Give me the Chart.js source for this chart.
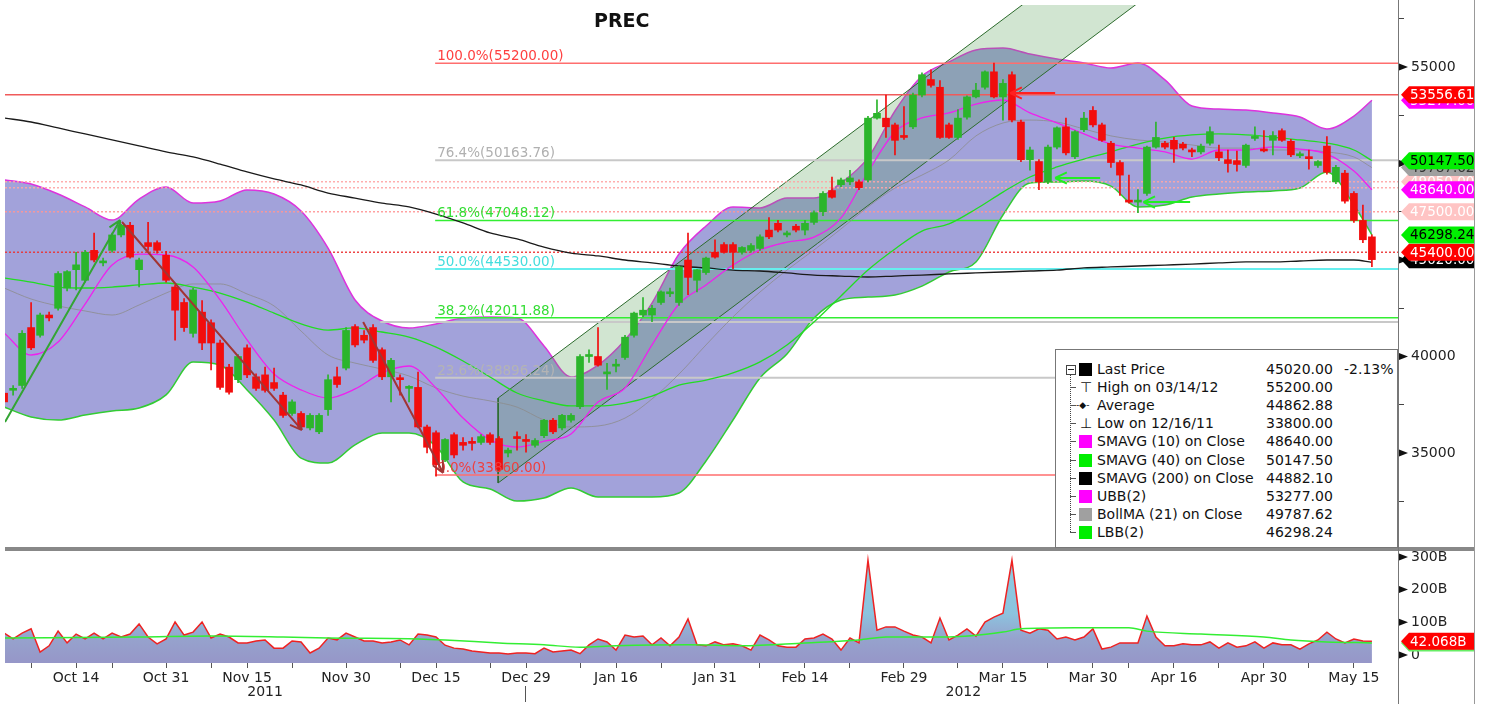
<!DOCTYPE html>
<html>
<head>
<meta charset="utf-8">
<title>PREC</title>
<script src="https://cdn.jsdelivr.net/npm/chart.js@4.4.1/dist/chart.umd.min.js"></script>
<style>
  html, body { margin: 0; padding: 0; background: #fff; }
  body { width: 1485px; height: 704px; position: relative; overflow: hidden; font-family: "DejaVu Sans", sans-serif; }
  canvas { position: absolute; left: 0; }
  #priceChart { top: 0; }
  #volumeChart { top: 548px; }
  .rule { position: absolute; }
  #title { position: absolute; left: 594px; top: 9px; font: bold 19px "DejaVu Sans", sans-serif; color: #111; }
  #legend { position: absolute; left: 1055px; top: 349px; width: 341px; height: 197px; background: #fff; border: 1px solid #777; font-size: 14px; color: #111; }
  #legend div { position: absolute; white-space: nowrap; line-height: 18px; }
</style>
</head>
<body>
<canvas id="priceChart" width="1485" height="548"></canvas>
<canvas id="volumeChart" width="1485" height="156"></canvas>
<div class="rule" style="left:5px;top:547px;width:1470px;height:4px;background:#888"></div>
<div class="rule" style="left:1398px;top:0;width:1px;height:704px;background:#777"></div>
<div class="rule" style="left:1474px;top:0;width:1px;height:704px;background:#999"></div>
<div id="title">PREC</div>
<div id="legend"></div>
<script>
// daily candles, one per trading day (index 0 = first visible day)
const opens = [
  38100, 38250, 38500, 41500, 41100, 42150, 42500, 43550, 44500, 43950,
  45500, 44850, 45500, 46300, 46800, 44500, 45900, 45900, 45250, 43600,
  42800, 41200, 42300, 41750, 40700, 39450, 38800, 40450, 38950, 39050,
  38650, 38000, 37050, 37050, 36300, 36100, 37250, 38950, 39400, 41550,
  41100, 41500, 40350, 38950, 38900, 38350, 38400, 36350, 36050, 34650,
  35950, 35550, 35550, 35550, 35950, 35750, 35000, 35850, 35700, 35400,
  35900, 36700, 36300, 36700, 37400, 40000, 40000, 39100, 39500, 39950,
  41100, 42150, 42150, 42800, 43250, 42800, 45000, 43950, 44350, 45400,
  45800, 45800, 45400, 45500, 45600, 46550, 46900, 46300, 46750, 46550,
  46950, 47500, 48600, 48900, 49050, 49050, 49150, 52350, 52350, 52000,
  51450, 51900, 53550, 54350, 53950, 52000, 51350, 52400, 53450, 53950,
  54750, 53450, 54600, 52150, 50200, 50100, 49050, 50850, 51900, 50350,
  51750, 52750, 52000, 51050, 50050, 48100, 48000, 48450, 50850, 51050,
  51200, 51000, 50700, 50600, 51050, 50600, 50200, 50150, 49900, 51300,
  50700, 51200, 51700, 51150, 50400, 50300, 49900, 50900, 49050, 49500,
  48450, 47050, 46200
];
const highs = [
  38350, 38500, 41350, 42800, 42250, 42300, 44400, 44450, 45400, 45500,
  46400, 45100, 46400, 46850, 46950, 45100, 46950, 46000, 45450, 43700,
  43000, 43550, 42900, 41900, 40850, 39600, 40100, 40600, 39100, 39450,
  39400, 38150, 37750, 37150, 37050, 37050, 39050, 39450, 41500, 41650,
  41350, 41650, 40450, 39900, 39050, 38500, 39200, 36450, 36150, 35750,
  36050, 35800, 35800, 35950, 36050, 35850, 35250, 36100, 35950, 35750,
  36750, 36800, 37000, 37050, 40100, 40350, 41500, 39650, 39850, 41100,
  42300, 43050, 42650, 43400, 43550, 44700, 46400, 44500, 45150, 46050,
  45900, 45900, 45700, 45850, 46300, 47200, 47050, 46500, 46850, 47050,
  47550, 48550, 49300, 49250, 49650, 49150, 52450, 53300, 53550, 52100,
  52950, 53650, 54700, 54850, 54300, 52100, 52800, 53500, 54150, 54800,
  55200, 54350, 54750, 52250, 50850, 50200, 50950, 51900, 52350, 51700,
  52650, 52950, 52100, 51150, 50150, 49400, 48650, 50900, 52150, 51150,
  51350, 51100, 50800, 51000, 51900, 50950, 50700, 50650, 51000, 51900,
  51700, 51650, 51800, 51250, 50600, 50700, 50150, 51400, 49900, 49650,
  48550, 47850, 46300
];
const lows = [
  37250, 38000, 38350, 40350, 41000, 41850, 42400, 43400, 43450, 43850,
  44900, 44700, 45400, 46200, 45100, 43600, 45500, 45350, 43850, 40850,
  41300, 41000, 40350, 39300, 38300, 38050, 38650, 38900, 38250, 38150,
  38250, 36850, 36950, 36250, 36200, 36000, 36950, 38400, 39300, 40500,
  40700, 39700, 38800, 37650, 38000, 37650, 36300, 35000, 33800, 34550,
  34750, 35150, 35150, 35450, 35450, 34050, 34800, 35150, 35050, 35300,
  35800, 36000, 36200, 36600, 37300, 39700, 39500, 38300, 39200, 39850,
  41000, 42050, 41800, 42700, 43100, 42650, 43200, 43350, 44250, 45100,
  45350, 44550, 45300, 45400, 45500, 46100, 46450, 46200, 46450, 46300,
  46850, 47300, 48200, 48800, 48900, 48650, 49050, 52300, 51350, 50450,
  51250, 51800, 53450, 53950, 51300, 51300, 51250, 52300, 53400, 53850,
  53400, 52250, 52150, 50100, 49650, 48650, 48950, 50750, 50450, 50250,
  51650, 51900, 51150, 49800, 48350, 47950, 47450, 48350, 50800, 50750,
  50050, 50700, 50350, 50500, 50950, 50150, 49550, 49600, 49800, 51200,
  50600, 50450, 51150, 50350, 50300, 49700, 49800, 49450, 48950, 47950,
  46950, 45900, 44650
];
const closes = [
  37650, 38300, 41200, 40450, 42150, 42000, 44300, 44400, 44750, 45400,
  45000, 44950, 46300, 46800, 45150, 45000, 45700, 45500, 43950, 42400,
  41500, 43450, 40700, 40700, 38400, 38150, 40000, 39050, 38350, 38250,
  38350, 36950, 37650, 36350, 36950, 36950, 38800, 38550, 41350, 40600,
  40850, 39800, 38950, 39800, 38800, 38450, 36350, 35300, 34400, 35700,
  34900, 35400, 35500, 35850, 35550, 34150, 35150, 35750, 35600, 35650,
  36700, 36100, 36950, 36950, 40000, 40100, 39550, 39200, 39600, 41000,
  42250, 42400, 42500, 43350, 43350, 44650, 44100, 44500, 45100, 45150,
  45400, 45400, 45650, 45750, 46200, 46200, 46550, 46400, 46550, 46900,
  47450, 48450, 48250, 49150, 49250, 48750, 52350, 52600, 51900, 51200,
  51350, 53550, 54600, 54050, 51350, 51350, 52350, 53450, 53800, 54750,
  53450, 54150, 52250, 50200, 50700, 49050, 50850, 51850, 50550, 51650,
  52350, 52000, 51200, 50050, 49400, 48000, 48100, 50850, 51350, 50850,
  50750, 50800, 50600, 50900, 51650, 50300, 50000, 49950, 50950, 51400,
  50650, 51450, 51200, 50450, 50450, 50250, 50100, 49550, 49800, 48050,
  47050, 46050, 45020
];
// daily volume, billions
const volumes = [
  67, 49, 67, 80, 9, 28, 73, 37, 64, 49,
  67, 49, 67, 55, 64, 95, 55, 34, 49, 101,
  61, 70, 101, 52, 64, 55, 37, 37, 43, 46,
  21, 21, 43, 40, 6, 21, 52, 46, 67, 55,
  43, 43, 37, 40, 46, 31, 64, 61, 55, 30,
  21, 18, 12, 9, 6, 6, 3, 6, 6, 4,
  21, 9, 12, 15, 4, 31, 49, 40, 15, 61,
  55, 58, 31, 52, 28, 55, 110, 31, 28, 40,
  31, 34, 28, 15, 61, 46, 28, 24, 24, 49,
  52, 64, 49, 15, 52, 37, 290, 76, 86, 86,
  73, 61, 55, 37, 113, 46, 61, 80, 58, 101,
  116, 128, 290, 76, 67, 80, 76, 49, 55, 46,
  55, 80, 18, 24, 37, 37, 37, 119, 55, 28,
  28, 34, 31, 31, 40, 21, 37, 24, 28, 40,
  21, 37, 31, 31, 18, 34, 46, 70, 49, 37,
  49, 43, 42.068
];
const volAvgIdx = [0, 15, 23, 31, 36, 46, 49, 55, 60, 64, 68, 76, 82, 89, 95, 98, 105, 111, 113, 119, 125, 127, 133, 140, 143, 147, 152];
const volAvg = [52, 55, 58, 55, 52, 49, 46, 37, 31, 24, 28, 31, 28, 37, 46, 55, 55, 70, 80, 83, 83, 73, 64, 55, 46, 40, 37];

// studies, read every third day
const bandIdx = [0, 3, 6, 9, 12, 15, 18, 21, 24, 27, 30, 33, 36, 39, 42, 45, 48, 51, 54, 57,
  60, 63, 66, 69, 72, 75, 78, 81, 84, 87, 90, 93, 96, 99, 102, 105, 108, 111, 114, 117,
  120, 123, 126, 129, 132, 135, 138, 141, 144, 147, 150, 152];
const upperBand = [49150, 48940, 48420, 47750, 47070, 48160, 48780, 47950, 48060, 48630,
  48420, 47540, 45620, 42930, 41840, 41480, 41690, 42000, 42050, 42000,
  40550, 38940, 39560, 40860, 42770, 45310, 46760, 47750, 47700, 48210,
  48210, 48990, 50290, 52720, 54530, 55260, 55880, 55980, 55670, 55410,
  55210, 54950, 55210, 54330, 52980, 52820, 52770, 52620, 52410, 51790, 52460, 53277];
const lowerBand = [37380, 36870, 36710, 36970, 37180, 37330, 38010, 39720, 39560, 38270,
  36710, 34740, 34480, 35420, 36040, 36040, 35360, 33500, 33140, 32510,
  32670, 33190, 32720, 32720, 32720, 32930, 34590, 36710, 38890, 40130,
  42000, 42930, 43080, 43190, 43650, 44380, 44900, 47330, 48990, 49040,
  49090, 48830, 47750, 47850, 48260, 48420, 48520, 48580, 48730, 49560, 47850, 46298];
const bollMid = [43550, 42980, 42620, 42360, 42150, 42670, 43290, 43760, 43760, 43240,
  42620, 41320, 40080, 39660, 39350, 38990, 38370, 37950, 37700, 37380,
  36710, 36350, 36400, 36810, 37800, 39090, 40600, 42050, 43340, 44480,
  45520, 46610, 47750, 48730, 49400, 50180, 51430, 52100, 52250, 52150,
  51790, 51430, 51220, 51110, 50960, 50800, 50800, 50700, 50700, 50600, 50340, 49788];
const sma10 = [41220, 40080, 40750, 42720, 44740, 45310, 45260, 44640, 42930, 40860,
  39090, 38270, 37850, 38320, 39150, 39510, 38370, 36810, 35680, 35310,
  35620, 35990, 37640, 38370, 40600, 42720, 43710, 44740, 45520, 45930,
  46190, 47180, 49560, 51630, 52360, 52620, 53080, 53290, 52620, 52100,
  51530, 51010, 50800, 50600, 50230, 50700, 50700, 50860, 50750, 50490, 49610, 48640];
const sma40 = [44070, 43860, 43600, 43550, 43600, 43710, 43810, 43600, 43290, 42820,
  42250, 41690, 41370, 41480, 41270, 41010, 40490, 39770, 38940, 38110,
  37700, 37440, 37440, 37590, 37950, 38520, 38780, 39150, 39720, 40600,
  41790, 43140, 44480, 45570, 46500, 46870, 47640, 48520, 49300, 49820,
  50230, 50600, 51010, 51320, 51480, 51530, 51480, 51370, 51220, 51060, 50700, 50148];
const sma200 = [52360, 52150, 51840, 51530, 51220, 50910, 50600, 50340, 49970, 49560,
  49200, 48890, 48470, 48210, 47950, 47750, 47380, 46920, 46400, 46090,
  45670, 45360, 45210, 45000, 44850, 44690, 44590, 44480, 44430, 44330,
  44220, 44170, 44120, 44170, 44220, 44280, 44330, 44380, 44430, 44480,
  44590, 44640, 44690, 44740, 44790, 44850, 44900, 44900, 44950, 45000, 45000, 44882];

// retracement levels
const fibValues = [55200, 50163.76, 47048.12, 44530, 42011.88, 38896.24, 33860];
const fibLabels = ['100.0%(55200.00)', '76.4%(50163.76)', '61.8%(47048.12)', '50.0%(44530.00)',
  '38.2%(42011.88)', '23.6%(38896.24)', '0.0%(33860.00)'];
const fibStart = 47.9;
const fullLevels = [53556.61];
const dottedLevels = [49050, 48750, 47500, 45400];
const grayLevel = 41790, grayLevelStart = 41.8;

// trend channel and arrows
const channelIdx = [54.9, 126];
const channelTop = [37850, 62714];
const channelBottom = [33450, 58314];
const arrowFrom = [[0.1, 36610], [13.1, 46970], [39.9, 41790], [116.8, 53650], [121.8, 49250], [131.8, 48000]];
const arrowTo = [[12.9, 47070], [33.1, 36190], [48.8, 33970], [111.8, 53650], [116.8, 49250], [126.6, 48000]];

// axis ticks
const priceTicks = [32500, 35000, 37500, 40000, 42500, 45000, 47500, 50000, 52500, 55000, 57500];
const volTicks = [0, 50, 100, 150, 200, 250, 300];
const tickIdx = [8, 18, 27, 38, 48, 58, 68, 79, 89, 100, 111, 121, 130, 140, 150];
const tickLabels = ['Oct 14', 'Oct 31', 'Nov 15', 'Nov 30', 'Dec 15', 'Dec 29', 'Jan 16', 'Jan 31',
  'Feb 14', 'Feb 29', 'Mar 15', 'Mar 30', 'Apr 16', 'Apr 30', 'May 15'];
const minorTickIdx = [3, 12, 23, 32, 44, 54, 64, 73, 84, 94, 106, 116, 125, 135, 145];
const yearLabels = ['2011', '2012'];
const yearIdx = [29, 106.6];
const yearSplitIdx = 57.9;

// last-value tags on the price axis (drawn bottom to top)
const priceTags = [45020, 45400, 46298.24, 47500, 49050, 48640, 49787.62, 50147.5, 53277, 53556.61];
const volTags = [37, 42.068];

// legend
const legendNames = ['Last Price', 'High on 03/14/12', 'Average', 'Low on 12/16/11', 'SMAVG (10) on Close',
  'SMAVG (40) on Close', 'SMAVG (200) on Close', 'UBB(2)', 'BollMA (21) on Close', 'LBB(2)'];
const legendValues = ['45020.00', '55200.00', '44862.88', '33800.00', '48640.00', '50147.50',
  '44882.10', '53277.00', '49787.62', '46298.24'];

// ---- styles ----
const FONT = '"DejaVu Sans", sans-serif';
const UP = '#2bb52b', DOWN = '#f20d0d';
const fibLineColors = ['#ff6e6e', '#c8c8c8', '#33ee33', '#66eeee', '#33ee33', '#c8c8c8', '#ff6e6e'];
const fibTextColors = ['#ff4040', '#b0b0b0', '#33dd33', '#44dddd', '#33dd33', '#b4b4b4', '#ee4040'];
const dottedColors = ['rgba(255,165,165,0.9)', 'rgba(255,165,165,0.9)', 'rgba(255,150,150,0.9)', 'rgba(235,50,50,0.9)'];
const arrowColors = ['#33a533', '#a23434', '#a23434', '#ff2020', '#22ee22', '#22ee22'];
const priceTagBg = ['#000', '#ff0000', '#00ee00', '#ffc4c4', '#ffc4c4', '#ff00ff', '#a0a0a0', '#00ee00', '#ff00ff', '#ff0000'];
const priceTagFg = ['#fff', '#fff', '#000', '#fff', '#fff', '#fff', '#333', '#000', '#fff', '#fff'];
const volTagBg = ['#66ee66', '#ff0000'];
const volTagFg = ['#fff', '#fff'];
const legendSwatches = ['#000', null, null, null, '#ff00ff', '#00ee00', '#000', '#ff00ff', '#a0a0a0', '#00ee00'];
const legendIcons = [null, '\u22a4', '-\u25c6-', '\u22a5'];

Chart.defaults.font.family = FONT;
Chart.defaults.font.size = 14;
Chart.defaults.color = '#222';

const X_MIN = 0.1, X_MAX = 154.9;

function pts(xs, ys) { return xs.map((x, k) => ({ x: x, y: ys[k] })); }
function flat(x0, v) { return [{ x: x0, y: v }, { x: X_MAX, y: v }]; }
function line(data, color, width, extra) {
  return Object.assign({ type: 'line', data: data, borderColor: color, borderWidth: width,
    pointRadius: 0, fill: false, tension: 0 }, extra || {});
}
// fixed-width right axis with no label overhang padding
function fitRightAxis(s) {
  s.width = 87;
  s.paddingTop = 0;
  s.paddingBottom = 0;
}

function drawTag(ctx, yPix, bg, fg, text) {
  const x0 = 1401, x1 = 1409, x2 = 1475, h = 8.5;
  ctx.beginPath();
  ctx.moveTo(x0, yPix);
  ctx.lineTo(x1, yPix - h);
  ctx.lineTo(x2, yPix - h);
  ctx.lineTo(x2, yPix + h);
  ctx.lineTo(x1, yPix + h);
  ctx.closePath();
  ctx.fillStyle = bg;
  ctx.fill();
  ctx.fillStyle = fg;
  ctx.font = '13.5px ' + FONT;
  ctx.textAlign = 'left';
  ctx.textBaseline = 'middle';
  ctx.fillText(text, 1410, yPix + 1);
}

function drawMarker(ctx, yPix) {
  ctx.fillStyle = '#111';
  ctx.beginPath();
  ctx.moveTo(1399, yPix - 3.5);
  ctx.lineTo(1408, yPix);
  ctx.lineTo(1399, yPix + 3.5);
  ctx.closePath();
  ctx.fill();
}

const priceOverlay = {
  id: 'priceOverlay',
  afterDatasetsDraw(chart) {
    const { ctx, chartArea: a, scales: { x, y } } = chart;
    ctx.save();
    ctx.beginPath();
    ctx.rect(a.left, a.top, a.right - a.left, a.bottom - a.top);
    ctx.clip();
    ctx.font = '13.5px ' + FONT;
    ctx.textAlign = 'left';
    ctx.textBaseline = 'alphabetic';
    fibValues.forEach((v, k) => {
      ctx.fillStyle = fibTextColors[k];
      ctx.fillText(fibLabels[k], x.getPixelForValue(fibStart) + 2, y.getPixelForValue(v) - 3);
    });
    arrowFrom.forEach((f, k) => {
      const t = arrowTo[k];
      const x1 = x.getPixelForValue(f[0]), y1 = y.getPixelForValue(f[1]);
      const x2 = x.getPixelForValue(t[0]), y2 = y.getPixelForValue(t[1]);
      const ang = Math.atan2(y2 - y1, x2 - x1);
      ctx.strokeStyle = arrowColors[k];
      ctx.lineWidth = 2;
      ctx.beginPath();
      ctx.moveTo(x1, y1);
      ctx.lineTo(x2, y2);
      [-1, 1].forEach(s => {
        ctx.moveTo(x2, y2);
        ctx.lineTo(x2 - 13 * Math.cos(ang + s * 0.45), y2 - 13 * Math.sin(ang + s * 0.45));
      });
      ctx.stroke();
    });
    ctx.restore();
  },
  afterDraw(chart) {
    const { ctx, scales: { y } } = chart;
    ctx.save();
    priceTicks.filter(v => v % 5000 === 0).forEach(v => drawMarker(ctx, y.getPixelForValue(v)));
    priceTags.forEach((v, k) => drawTag(ctx, y.getPixelForValue(v), priceTagBg[k], priceTagFg[k], v.toFixed(2)));
    ctx.restore();
  }
};

const volumeOverlay = {
  id: 'volumeOverlay',
  afterDraw(chart) {
    const { ctx, scales: { x, y } } = chart;
    ctx.save();
    ctx.font = '14px ' + FONT;
    ctx.fillStyle = '#222';
    ctx.textAlign = 'center';
    ctx.textBaseline = 'middle';
    yearLabels.forEach((t, k) => ctx.fillText(t, x.getPixelForValue(yearIdx[k]), 144));
    const sx = Math.round(x.getPixelForValue(yearSplitIdx)) + 0.5;
    ctx.strokeStyle = '#555';
    ctx.lineWidth = 1;
    ctx.beginPath();
    ctx.moveTo(sx, 138);
    ctx.lineTo(sx, 154);
    ctx.stroke();
    [0, 100, 200, 300].forEach(v => drawMarker(ctx, y.getPixelForValue(v)));
    volTags.forEach((v, k) => drawTag(ctx, y.getPixelForValue(v), volTagBg[k], volTagFg[k], v.toFixed(3) + 'B'));
    ctx.restore();
  }
};

// ---- price panel ----
const candleColors = closes.map((c, i) => (c >= opens[i] ? UP : DOWN));
const bodies = opens.map((o, i) => ({ x: i, y: [o, closes[i]] }));
const wicks = lows.map((l, i) => ({ x: i, y: [l, highs[i]] }));

const priceSets = [
  { type: 'bar', data: bodies, backgroundColor: candleColors, barThickness: 7, grouped: false, minBarLength: 2, order: 1 },
  { type: 'bar', data: wicks, backgroundColor: candleColors, barThickness: 1, grouped: false, order: 2 },
  line(pts(bandIdx, sma10), '#ee22ee', 1.3, { order: 4, cubicInterpolationMode: 'monotone' }),
  line(pts(bandIdx, sma40), '#22dd22', 1.3, { order: 4, cubicInterpolationMode: 'monotone' }),
  line(pts(bandIdx, sma200), '#1a1a1a', 1.3, { order: 4, cubicInterpolationMode: 'monotone' }),
  line(pts(bandIdx, bollMid), 'rgba(140,140,140,0.8)', 1, { order: 5, cubicInterpolationMode: 'monotone' })
];
fibValues.forEach((v, k) => priceSets.push(line(flat(fibStart, v), fibLineColors[k], k % 2 ? 2 : 1.5, { order: 6 })));
fullLevels.forEach(v => priceSets.push(line(flat(X_MIN, v), '#f05a5a', 1.5, { order: 6 })));
dottedLevels.forEach((v, k) => priceSets.push(line(flat(X_MIN, v), dottedColors[k], 1.5, { order: 6, borderDash: [2, 2] })));
priceSets.push(line(flat(grayLevelStart, grayLevel), '#c8c8c8', 2, { order: 6 }));
priceSets.push(line(pts(channelIdx, channelTop), '#2d6b2d', 1, { order: 10, fill: '+1', backgroundColor: 'rgba(90,160,90,0.28)' }));
priceSets.push(line(pts(channelIdx, channelBottom), '#2d6b2d', 1, { order: 9 }));
priceSets.push(line([{ x: channelIdx[0], y: channelTop[0] }, { x: channelIdx[0], y: channelBottom[0] }], '#2d6b2d', 1, { order: 9 }));
priceSets.push(line(pts(bandIdx, upperBand), '#dd33dd', 1.5, { order: 12, fill: '+1', backgroundColor: 'rgba(118,118,200,0.68)', cubicInterpolationMode: 'monotone' }));
priceSets.push(line(pts(bandIdx, lowerBand), '#33cc33', 1.5, { order: 11, cubicInterpolationMode: 'monotone' }));

new Chart(document.getElementById('priceChart'), {
  type: 'bar',
  data: { datasets: priceSets },
  options: {
    responsive: false,
    animation: false,
    events: [],
    devicePixelRatio: 1,
    layout: { padding: { left: 5, top: 5, right: 0, bottom: 3 } },
    plugins: { legend: { display: false }, tooltip: { enabled: false } },
    scales: {
      x: { type: 'linear', min: X_MIN, max: X_MAX, offset: false, display: false, grid: { offset: false } },
      y: {
        position: 'right', min: 30235, max: 58212,
        afterBuildTicks: s => { s.ticks = priceTicks.map(v => ({ value: v })); },
        afterFit: fitRightAxis,
        grid: { drawOnChartArea: false, color: '#444', tickLength: 6 },
        border: { color: '#777' },
        ticks: { padding: 7, color: '#222', callback: v => (v % 5000 === 0 ? String(v) : '') }
      }
    }
  },
  plugins: [priceOverlay]
});

// ---- volume panel ----
function volumeFill(context) {
  const chart = context.chart;
  const a = chart.chartArea;
  if (!a) return 'rgba(140,170,215,0.9)';
  const g = chart.ctx.createLinearGradient(0, a.top, 0, a.bottom);
  g.addColorStop(0, 'rgb(140,205,225)');
  g.addColorStop(0.55, 'rgb(140,195,222)');
  g.addColorStop(0.78, 'rgb(150,162,205)');
  g.addColorStop(1, 'rgb(150,150,200)');
  return g;
}

new Chart(document.getElementById('volumeChart'), {
  type: 'line',
  data: {
    datasets: [
      line(pts(volAvgIdx, volAvg), '#33ee33', 1.5, { order: 1, cubicInterpolationMode: 'monotone' }),
      line(volumes.map((v, i) => ({ x: i, y: v })), '#ee2222', 1.5, { order: 2, fill: 'start', backgroundColor: volumeFill })
    ]
  },
  options: {
    responsive: false,
    animation: false,
    events: [],
    devicePixelRatio: 1,
    layout: { padding: { left: 5, top: 5, right: 0, bottom: 0 } },
    plugins: { legend: { display: false }, tooltip: { enabled: false } },
    scales: {
      x: {
        type: 'linear', min: X_MIN, max: X_MAX, offset: false,
        afterBuildTicks: s => { s.ticks = tickIdx.concat(minorTickIdx).sort((p, q) => p - q).map(v => ({ value: v })); },
        afterFit: s => { s.height = 41; s.paddingLeft = 0; s.paddingRight = 0; },
        grid: { drawOnChartArea: false, color: '#555', tickLength: 5 },
        border: { display: false },
        ticks: {
          autoSkip: false, maxRotation: 0, padding: 2, color: '#222',
          callback: v => { const k = tickIdx.indexOf(v); return k >= 0 ? tickLabels[k] : ''; }
        }
      },
      y: {
        position: 'right', min: -24.5, max: 312,
        afterBuildTicks: s => { s.ticks = volTicks.map(v => ({ value: v })); },
        afterFit: fitRightAxis,
        grid: { drawOnChartArea: false, color: '#444', tickLength: 6 },
        border: { color: '#777' },
        ticks: { padding: 7, color: '#222', callback: v => (v === 0 ? '0' : (v % 100 === 0 ? v + 'B' : '')) }
      }
    }
  },
  plugins: [volumeOverlay]
});

// ---- legend box ----
const legend = document.getElementById('legend');
function addDiv(style, text) {
  const d = document.createElement('div');
  d.style.cssText = style;
  if (text) d.textContent = text;
  legend.appendChild(d);
  return d;
}
const rowH = 18.1, row0 = 10;
addDiv('left:14px;top:' + (row0 + 9) + 'px;width:0;height:' + (9 * rowH) + 'px;border-left:1px dotted #444');
addDiv('left:10px;top:' + (row0 + 5) + 'px;width:8px;height:8px;border:1px solid #444;background:#fff');
addDiv('left:12px;top:' + (row0 + 9) + 'px;width:6px;height:0;border-top:1px solid #222');
legendNames.forEach((name, k) => {
  const top = row0 + k * rowH;
  if (k > 0) addDiv('left:14px;top:' + (top + 9) + 'px;width:6px;height:0;border-top:1px solid #555');
  if (legendSwatches[k]) {
    addDiv('left:23px;top:' + (top + 3) + 'px;width:13px;height:13px;background:' + legendSwatches[k]);
  } else {
    addDiv('left:' + (k === 2 ? 20 : 24) + 'px;top:' + top + 'px;color:#111;font-size:' + (k === 2 ? 9 : 14) + 'px', legendIcons[k]);
  }
  addDiv('left:41px;top:' + top + 'px', name);
  addDiv('left:210px;top:' + top + 'px', legendValues[k]);
});
addDiv('left:288px;top:' + row0 + 'px', '-2.13%');
</script>
</body>
</html>
